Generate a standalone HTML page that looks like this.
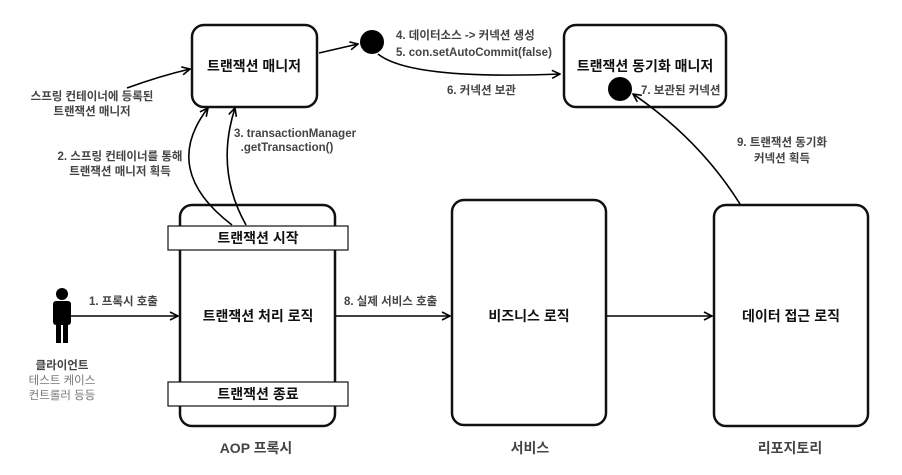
<!DOCTYPE html>
<html><head><meta charset="utf-8"><style>
body{margin:0;background:#fff}
svg text{font-family:"Liberation Sans","Noto Sans CJK KR",sans-serif;font-weight:bold}
</style></head><body>
<svg width="902" height="470" viewBox="0 0 902 470" xmlns="http://www.w3.org/2000/svg">
<defs><marker id="a" markerWidth="10" markerHeight="10" refX="9" refY="5" orient="auto" markerUnits="userSpaceOnUse"><path d="M1,1 L9,5 L1,9" fill="none" stroke="#000" stroke-width="1.6"/></marker></defs>
<g fill="none" stroke="#111" stroke-width="2.5">
<rect x="192" y="25" width="125" height="82" rx="12"/>
<rect x="564" y="25" width="162" height="82" rx="12"/>
<rect x="180" y="205" width="155" height="221" rx="12"/>
<rect x="452" y="200" width="154" height="225" rx="12"/>
<rect x="714" y="205" width="154" height="221" rx="12"/>
</g>
<g fill="#fff" stroke="#111" stroke-width="1.2">
<rect x="168" y="226" width="180" height="24"/>
<rect x="168" y="382" width="180" height="24"/>
</g>
<circle cx="372" cy="42" r="12"/>
<circle cx="620" cy="89" r="12"/>
<g fill="none" stroke="#000" stroke-width="1.6" marker-end="url(#a)">
<path d="M319,53 L358,44"/>
<path d="M127,88 Q160,76 190,69"/>
<path d="M378,54 Q410,80 560,74"/>
<path d="M232,225 Q160,170 208,108"/>
<path d="M246,225 Q215,170 235,108"/>
<path d="M70,316 L178,316"/>
<path d="M336,316 L450,316"/>
<path d="M607,316 L712,316"/>
<path d="M740,204 Q700,140 633,94"/>
</g>
<g fill="#000"><circle cx="62" cy="294" r="6"/><rect x="53" y="301" width="18" height="24" rx="3"/><rect x="56" y="318" width="5" height="25"/><rect x="63" y="318" width="5" height="25"/></g>
<g font-size="14" fill="#111" text-anchor="middle">
<text x="254" y="71">트랜잭션 매니저</text>
<text x="645" y="71">트랜잭션 동기화 매니저</text>
<text x="258" y="243">트랜잭션 시작</text>
<text x="258" y="399">트랜잭션 종료</text>
<text x="258" y="321">트랜잭션 처리 로직</text>
<text x="529" y="321">비즈니스 로직</text>
<text x="791" y="321">데이터 접근 로직</text>
</g>
<g font-size="14" fill="#444" text-anchor="middle">
<text x="256" y="453">AOP 프록시</text>
<text x="530" y="453">서비스</text>
<text x="790" y="453">리포지토리</text>
</g>
<g font-size="11.5" fill="#444">
<text x="396" y="39">4. 데이터소스 -&gt; 커넥션 생성</text>
<text x="396" y="56">5. con.setAutoCommit(false)</text>
<text x="447" y="94">6. 커넥션 보관</text>
<text x="641" y="94">7. 보관된 커넥션</text>
<text x="89" y="305">1. 프록시 호출</text>
<text x="344" y="305">8. 실제 서비스 호출</text>
<text x="234" y="137">3. transactionManager</text>
</g>
<g font-size="11.5" fill="#444" text-anchor="middle">
<text x="92" y="100">스프링 컨테이너에 등록된</text>
<text x="92" y="115">트랜잭션 매니저</text>
<text x="120" y="160">2. 스프링 컨테이너를 통해</text>
<text x="120" y="175">트랜잭션 매니저 획득</text>
<text x="287" y="151">.getTransaction()</text>
<text x="782" y="146">9. 트랜잭션 동기화</text>
<text x="782" y="162">커넥션 획득</text>
<text x="62" y="369">클라이언트</text>
</g>
<g font-size="11.5" fill="#777" text-anchor="middle">
<text x="62" y="384" style="font-weight:normal">테스트 케이스</text>
<text x="62" y="399" style="font-weight:normal">컨트롤러 등등</text>
</g>
</svg>
</body></html>
